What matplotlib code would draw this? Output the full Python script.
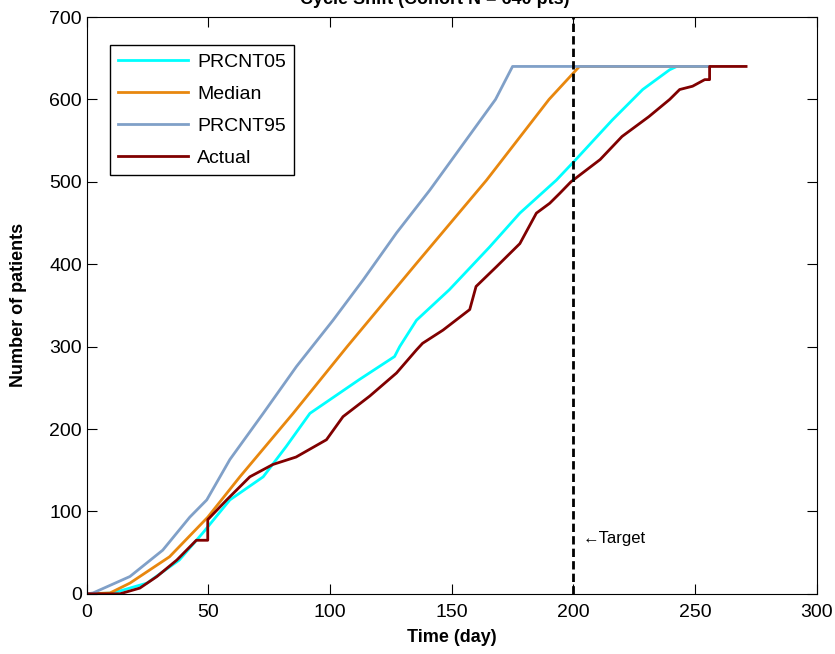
import matplotlib.pyplot as plt

plt.rcParams['font.family'] = ['Liberation Sans', 'DejaVu Sans']

### curves (day, cumulative patients)
p05_t = [0, 10.7, 24.7, 38, 47.7, 58.8, 72.5, 82, 91.7, 112, 126.5, 128.6, 135.5, 149, 165.6,
         178, 193, 201, 216, 228.5, 239.6, 242.5, 256]
p05_n = [0, 1, 13, 41, 74, 114, 142, 179, 219, 260, 288, 300, 332, 369, 421,
         462, 502, 527, 575, 612, 636, 640, 640]

med_t = [0, 9.5, 17.7, 34, 49.7, 62.9, 84.8, 107, 135.5, 164.3, 190, 202.5, 256]
med_n = [0, 1, 13, 45, 93, 142, 219, 300, 401, 502, 600, 640, 640]

p95_t = [0, 2.5, 17.7, 31.2, 42.3, 49.3, 58.8, 72.5, 86.2, 101.2, 113.6, 127.3, 141, 168, 175, 256]
p95_n = [0, 1, 21, 53, 93, 114, 163, 219, 276, 332, 381, 438, 490, 600, 640, 640]

act_t = [0, 13.6, 21.8, 28.8, 37, 45, 49.7, 49.7, 57.5, 67, 76.5, 86, 98.5, 105.3, 116.3, 127.3,
         135.5, 138, 146.4, 157.4, 160, 168.4, 178, 184.8, 190.3, 194.4, 199, 211, 220, 231,
         239.6, 243.7, 249, 254, 256, 256, 271]
act_n = [0, 0, 7, 21, 41, 65, 65, 90, 114, 142, 157, 166, 187, 215, 240, 268,
         296, 304, 320, 345, 373, 397, 425, 462, 474, 486, 500, 527, 555, 579,
         600, 612, 616, 624, 624, 640, 640]

target_day = 200

fig = plt.figure(figsize=(8.35, 6.54), dpi=100)
ax = fig.add_axes([0.104, 0.092, 0.874, 0.882])

ax.plot(p05_t, p05_n, color='#00ffff', lw=2, label='PRCNT05')
ax.plot(med_t, med_n, color='#e8870e', lw=2, label='Median')
ax.plot(p95_t, p95_n, color='#80a0c8', lw=2, label='PRCNT95')
ax.plot(act_t, act_n, color='#800000', lw=2, label='Actual')
ax.axvline(target_day, color='black', lw=2, ls=(0, (3, 1.5)))
ax.text(target_day + 4, 62, '\u2190Target', fontsize=12)

ax.set_xlim(0, 300)
ax.set_ylim(0, 700)
ax.set_xticks(range(0, 301, 50))
ax.set_yticks(range(0, 701, 100))
ax.tick_params(direction='in', top=True, right=True, labelsize=14, length=7)
ax.tick_params(axis='x', pad=7)
ax.set_xlabel('Time (day)', fontsize=13, fontweight='bold', labelpad=6)
ax.set_ylabel('Number of patients', fontsize=13, fontweight='bold', labelpad=16)

leg = ax.legend(loc='upper left', fontsize=14, handlelength=3.6, fancybox=False,
                edgecolor='black', framealpha=1, borderpad=0.4, labelspacing=0.75,
                handletextpad=0.5, bbox_to_anchor=(0.0315, 0.951), borderaxespad=0)
leg.get_frame().set_linewidth(1)

fig.text(435 / 835, 1 - 4 / 654, 'Cycle Shift (Cohort N = 640 pts)', ha='center',
         va='baseline', fontsize=13, fontweight='bold')

fig.savefig('out.png')
